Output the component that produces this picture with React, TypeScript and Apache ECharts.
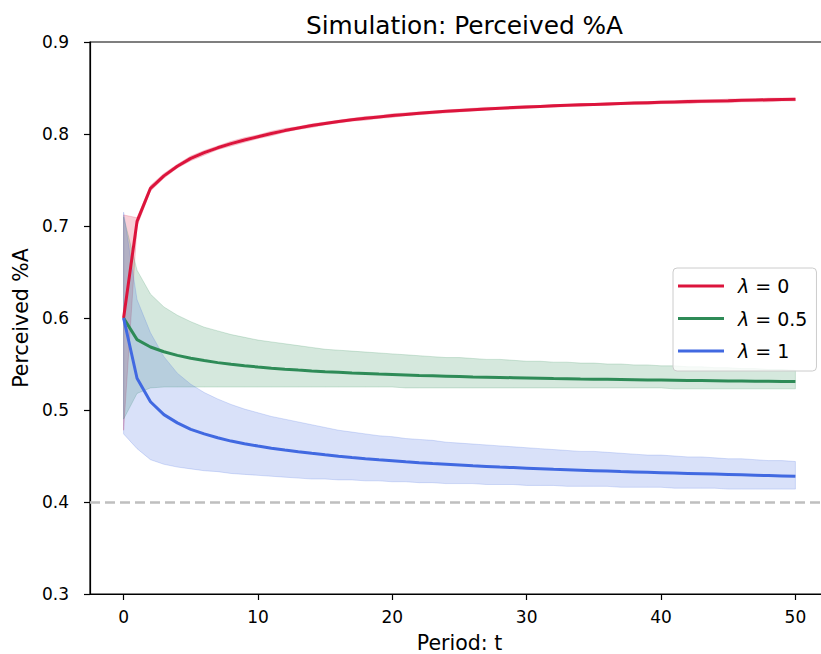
import React, { useEffect, useRef } from "react";
import * as echarts from "echarts";

const periods: number[] = Array.from({ length: 51 }, (_, i) => i);
const xTicks = [0, 10, 20, 30, 40, 50];
const seriesNames = ["λ = 0", "λ = 0.5", "λ = 1"];
const baseline = 0.4;

const red = [0.6000,0.7050,0.7410,0.7545,0.7650,0.7735,0.7797,0.7850,0.7895,0.7935,0.7970,0.8005,0.8037,0.8066,0.8092,0.8115,0.8135,0.8154,0.8171,0.8186,0.8200,0.8213,0.8225,0.8236,0.8246,0.8255,0.8264,0.8272,0.8280,0.8287,0.8294,0.8300,0.8306,0.8312,0.8317,0.8322,0.8327,0.8332,0.8336,0.8340,0.8344,0.8348,0.8352,0.8356,0.8359,0.8362,0.8366,0.8369,0.8372,0.8375,0.8378];
const redLow = [0.478,0.700,0.738,0.752,0.763,0.771,0.777,0.783,0.787,0.791,0.795,0.798,0.802,0.805,0.807,0.810,0.812,0.814,0.815,0.817,0.818,0.820,0.821,0.822,0.823,0.824,0.825,0.826,0.827,0.827,0.828,0.829,0.829,0.830,0.830,0.831,0.831,0.832,0.832,0.832,0.833,0.833,0.833,0.834,0.834,0.834,0.835,0.835,0.835,0.836,0.836];
const redHigh = [0.712,0.709,0.744,0.757,0.767,0.776,0.782,0.787,0.792,0.796,0.799,0.803,0.806,0.808,0.811,0.813,0.815,0.817,0.819,0.820,0.822,0.823,0.824,0.825,0.826,0.827,0.828,0.829,0.829,0.830,0.831,0.831,0.832,0.832,0.833,0.833,0.834,0.834,0.835,0.835,0.836,0.836,0.837,0.837,0.837,0.838,0.838,0.838,0.839,0.839,0.839];

const green = [0.6000,0.5765,0.5685,0.5633,0.5594,0.5563,0.5537,0.5515,0.5497,0.5481,0.5467,0.5455,0.5444,0.5434,0.5425,0.5417,0.5410,0.5403,0.5397,0.5391,0.5386,0.5381,0.5376,0.5372,0.5368,0.5364,0.5360,0.5357,0.5354,0.5351,0.5348,0.5345,0.5342,0.5340,0.5337,0.5335,0.5333,0.5331,0.5329,0.5327,0.5325,0.5323,0.5321,0.5320,0.5318,0.5316,0.5315,0.5313,0.5312,0.5311,0.5309];
const greenLow = [0.490,0.518,0.524,0.525,0.525,0.525,0.525,0.525,0.525,0.525,0.525,0.525,0.525,0.525,0.525,0.525,0.525,0.525,0.525,0.525,0.525,0.524,0.524,0.524,0.524,0.524,0.524,0.524,0.524,0.524,0.524,0.524,0.524,0.524,0.524,0.524,0.524,0.524,0.524,0.524,0.524,0.523,0.523,0.523,0.523,0.523,0.523,0.523,0.523,0.523,0.523];
const greenHigh = [0.710,0.652,0.626,0.612,0.603,0.596,0.590,0.586,0.582,0.579,0.576,0.574,0.572,0.570,0.568,0.566,0.565,0.564,0.563,0.562,0.561,0.560,0.559,0.558,0.557,0.557,0.556,0.555,0.555,0.554,0.553,0.553,0.552,0.552,0.551,0.551,0.550,0.550,0.549,0.549,0.548,0.548,0.547,0.547,0.546,0.546,0.545,0.545,0.544,0.544,0.543];

const blue = [0.6000,0.5345,0.5090,0.4950,0.4860,0.4790,0.4740,0.4698,0.4662,0.4633,0.4608,0.4585,0.4565,0.4546,0.4529,0.4513,0.4498,0.4484,0.4471,0.4459,0.4448,0.4437,0.4427,0.4418,0.4410,0.4402,0.4394,0.4387,0.4380,0.4374,0.4368,0.4362,0.4356,0.4351,0.4346,0.4341,0.4336,0.4331,0.4327,0.4323,0.4319,0.4315,0.4311,0.4307,0.4303,0.4299,0.4295,0.4291,0.4287,0.4283,0.4279];
const blueLow = [0.474,0.458,0.446,0.441,0.438,0.436,0.434,0.433,0.431,0.430,0.429,0.428,0.427,0.426,0.425,0.425,0.424,0.424,0.423,0.423,0.422,0.422,0.421,0.421,0.420,0.420,0.420,0.419,0.419,0.419,0.418,0.418,0.418,0.417,0.417,0.417,0.417,0.416,0.416,0.416,0.416,0.415,0.415,0.415,0.415,0.414,0.414,0.414,0.414,0.414,0.414];
const blueHigh = [0.715,0.620,0.584,0.558,0.540,0.528,0.519,0.512,0.506,0.501,0.497,0.493,0.490,0.487,0.484,0.481,0.478,0.476,0.474,0.472,0.471,0.469,0.468,0.467,0.465,0.464,0.463,0.462,0.461,0.460,0.459,0.458,0.457,0.456,0.455,0.455,0.454,0.453,0.452,0.451,0.451,0.450,0.449,0.449,0.448,0.447,0.447,0.446,0.445,0.445,0.444];

const colors = ["#DC143C", "#2E8B57", "#4169E1"];
const bandColors = ["rgba(220,20,60,0.2)", "rgba(46,139,87,0.2)", "rgba(65,105,225,0.2)"];

const FONT = "DejaVu Sans";

function band(lower: number[], upper: number[], fill: string) {
  return {
    type: "custom",
    silent: true,
    z: 1,
    clip: true,
    data: [[periods[0], lower[0]]],
    renderItem: (_params: any, api: any) => {
      const pts: number[][] = [];
      for (let i = 0; i < periods.length; i++) pts.push(api.coord([periods[i], upper[i]]));
      for (let i = periods.length - 1; i >= 0; i--) pts.push(api.coord([periods[i], lower[i]]));
      return { type: "polygon", shape: { points: pts }, style: { fill, stroke: fill, lineWidth: 1 } };
    },
  };
}

function line(name: string, vals: number[], color: string) {
  return {
    type: "line",
    name,
    data: periods.map((t, i) => [t, vals[i]]),
    symbol: "none",
    z: 3,
    lineStyle: { color, width: 3 },
    itemStyle: { color },
  };
}

export default function App() {
  const ref = useRef<HTMLDivElement>(null);
  useEffect(() => {
    const chart = echarts.init(ref.current!, null, { renderer: "svg" });
    chart.setOption({
      animation: false,
      backgroundColor: "#fff",
      textStyle: { fontFamily: FONT },
      title: {
        text: "Simulation: Perceived %A",
        left: 459.5,
        textAlign: "center",
        top: 8,
        textStyle: { fontFamily: FONT, fontSize: 24.8, fontWeight: "normal", color: "#000" },
      },
      grid: {
        left: 90, top: 42, right: 11, bottom: 60,
        outerBoundsMode: "none",
        containLabel: false,
        show: true, borderColor: "#000", borderWidth: 1.2, backgroundColor: "transparent",
      },
      legend: {
        data: seriesNames,
        orient: "vertical",
        left: 673,
        top: 268,
        icon: "rect",
        itemWidth: 46,
        itemHeight: 3,
        itemGap: 12.5,
        padding: [8, 9, 10, 5],
        borderColor: "#cccccc",
        borderWidth: 1,
        borderRadius: 4,
        backgroundColor: "rgba(255,255,255,0.8)",
        textStyle: {
          fontFamily: FONT,
          fontSize: 19,
          color: "#000",
          lineHeight: 20,
          padding: [0, 0, 0, 9],
          rich: { i: { fontStyle: "italic", fontFamily: FONT, fontSize: 19, color: "#000" } },
        },
        formatter: (n: string) => "{i|λ}" + n.slice(1),
      },
      xAxis: {
        type: "value",
        min: -2.5,
        max: 52.5,
        name: "Period: t",
        nameLocation: "middle",
        nameGap: 38,
        nameTextStyle: { fontFamily: FONT, fontSize: 20.5, color: "#000" },
        axisLine: { show: true, onZero: false, lineStyle: { color: "#000", width: 1.2 } },
        axisTick: { show: true, length: 6, lineStyle: { color: "#000", width: 1.2 }, customValues: xTicks },
        axisLabel: { fontFamily: FONT, fontSize: 17, color: "#000", margin: 14, customValues: xTicks },
        splitLine: { show: false },
      },
      yAxis: {
        type: "value",
        min: 0.3,
        max: 0.9,
        interval: 0.1,
        name: "Perceived %A",
        nameLocation: "middle",
        nameGap: 58,
        nameRotate: 90,
        nameTextStyle: { fontFamily: FONT, fontSize: 20.5, color: "#000" },
        axisLine: { show: true, onZero: false, lineStyle: { color: "#000", width: 1.2 } },
        axisTick: { show: true, length: 6, lineStyle: { color: "#000", width: 1.2 } },
        axisLabel: { fontFamily: FONT, fontSize: 17, color: "#000", margin: 21, formatter: (v: number) => v.toFixed(1) },
        splitLine: { show: false },
      },
      series: [
        band(redLow, redHigh, bandColors[0]),
        band(greenLow, greenHigh, bandColors[1]),
        band(blueLow, blueHigh, bandColors[2]),
        line(seriesNames[0], red, colors[0]),
        line(seriesNames[1], green, colors[1]),
        {
          ...line(seriesNames[2], blue, colors[2]),
          markLine: {
            silent: true,
            symbol: "none",
            label: { show: false },
            lineStyle: { color: "#bfbfbf", width: 2.6, type: [10, 5] },
            data: [{ yAxis: baseline }],
          },
        },
      ],
    });
    return () => chart.dispose();
  }, []);
  return (
    <div style={{ position: "fixed", left: 0, top: 0, width: 821, height: 654, overflow: "hidden", background: "#fff" }}>
      <div ref={ref} style={{ width: 840, height: 654 }} />
    </div>
  );
}
